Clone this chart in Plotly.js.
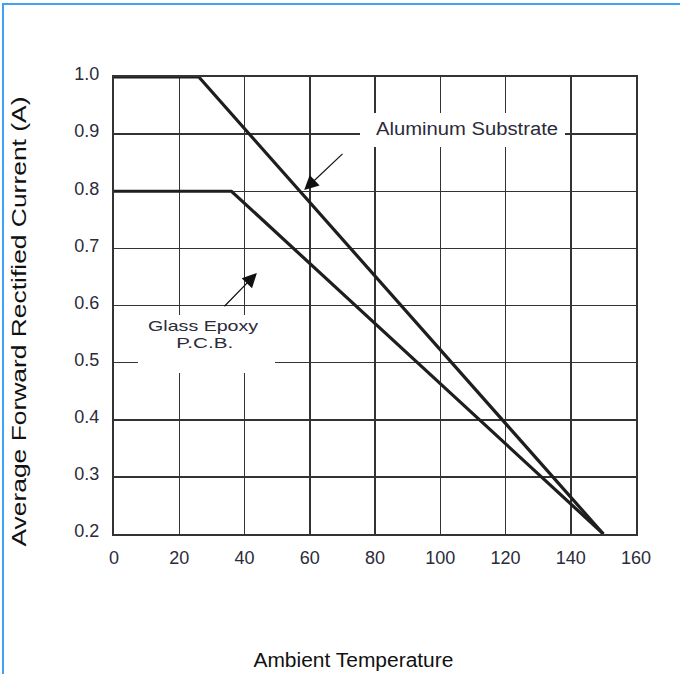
<!DOCTYPE html>
<html>
<head>
<meta charset="utf-8">
<script src="https://cdn.plot.ly/plotly-3.0.1.min.js"></script>
<style>
  html, body { margin: 0; padding: 0; background: #fff; }
  #wrap { position: relative; width: 680px; height: 674px; overflow: hidden; }
  #frame { position: absolute; left: 2px; top: 3px; width: 690px; height: 690px;
           border-top: 2px solid #3fa2f6; border-left: 2px solid #3fa2f6; pointer-events: none; z-index: 5; }
  #chart { position: absolute; left: 0; top: 0; width: 680px; height: 674px; }
</style>
</head>
<body>
<div id="wrap">
  <div id="chart"></div>
  <div id="frame"></div>
</div>
<script>
// Ambient temperature (°C) breakpoints and current (A)
const aluminumTemp = [0, 26, 150];
const aluminumCurrent = [1.0, 1.0, 0.2];
const glassTemp = [0, 36, 150];
const glassCurrent = [0.8, 0.8, 0.2];

const xTicks = [0, 20, 40, 60, 80, 100, 120, 140, 160];
const yTicks = [0.2, 0.3, 0.4, 0.5, 0.6, 0.7, 0.8, 0.9, 1.0];
const yTickLabels = ['0.2', '0.3', '0.4', '0.5', '0.6', '0.7', '0.8', '0.9', '1.0'];

const labelAluminum = 'Aluminum Substrate';
const labelGlass1 = 'Glass Epoxy';
const labelGlass2 = 'P.C.B.';
const xTitle = 'Ambient Temperature';
const yTitle = 'Average Forward Rectified Current (A)';

const L = 114, R = 636, T = 77, B = 534;
const px = v => (v - L) / (R - L);
const py = v => (B - v) / (B - T);

const lineStyle = { color: '#1e1e1e', width: 3.2 };
const traces = [
  { x: aluminumTemp, y: aluminumCurrent, mode: 'lines', line: lineStyle, name: labelAluminum, hoverinfo: 'skip' },
  { x: glassTemp, y: glassCurrent, mode: 'lines', line: lineStyle, name: 'Glass Epoxy P.C.B.', hoverinfo: 'skip' }
];

const FAM = 'Liberation Sans, Arial, sans-serif';
const tickFont = { family: FAM, size: 18, color: '#2b2b3a' };
const txtFont = { family: FAM, size: 18, color: '#2b2b3a' };
const glassFont = { family: FAM, size: 15, color: '#2b2b3a' };
const titleFont = { family: FAM, size: 20, color: '#111' };

const layout = {
  width: 680, height: 674,
  margin: { l: L, r: 680 - R, t: T, b: 674 - B, pad: 0 },
  paper_bgcolor: '#fff', plot_bgcolor: '#fff',
  showlegend: false,
  xaxis: {
    range: [0, 160], tickvals: xTicks, ticktext: xTicks.map(String),
    showgrid: true, gridcolor: '#333', gridwidth: 1.5, zeroline: false,
    showline: true, mirror: true, linecolor: '#333', linewidth: 2,
    ticks: '', tickfont: tickFont, ticklabelstandoff: 6, fixedrange: true
  },
  yaxis: {
    range: [0.2, 1.0], tickvals: yTicks, ticktext: yTickLabels,
    showgrid: true, gridcolor: '#333', gridwidth: 1.5, zeroline: false,
    showline: true, mirror: true, linecolor: '#333', linewidth: 2,
    ticks: '', tickfont: tickFont, ticklabelstandoff: 9, ticklabelshift: -3, fixedrange: true
  },
  shapes: [
    { type: 'rect', xref: 'paper', yref: 'paper', layer: 'above',
      x0: px(360), x1: px(565), y0: py(147), y1: py(113),
      fillcolor: '#fff', line: { width: 0 } },
    { type: 'rect', xref: 'paper', yref: 'paper', layer: 'above',
      x0: px(138), x1: px(275), y0: py(373), y1: py(315),
      fillcolor: '#fff', line: { width: 0 } }
  ],
  annotations: [
    { xref: 'paper', yref: 'paper', x: px(467), y: py(129), text: labelAluminum,
      showarrow: false, font: txtFont, xanchor: 'center', yanchor: 'middle' },
    { xref: 'paper', yref: 'paper', x: px(203), y: py(325), text: labelGlass1,
      showarrow: false, font: glassFont, xanchor: 'center', yanchor: 'middle' },
    { xref: 'paper', yref: 'paper', x: px(204), y: py(342), text: labelGlass2,
      showarrow: false, font: glassFont, xanchor: 'center', yanchor: 'middle' },
    { x: 58.3, y: 0.802, xref: 'x', yref: 'y', axref: 'x', ayref: 'y',
      ax: 70.5, ay: 0.868, text: '', showarrow: true, arrowhead: 2,
      arrowsize: 2.4, arrowwidth: 1.2, arrowcolor: '#111', standoff: 0 },
    { x: 43.8, y: 0.657, xref: 'x', yref: 'y', axref: 'x', ayref: 'y',
      ax: 33.4, ay: 0.596, text: '', showarrow: true, arrowhead: 2,
      arrowsize: 2.4, arrowwidth: 1.2, arrowcolor: '#111', standoff: 0 },
    { xref: 'paper', yref: 'paper', x: px(353), y: py(660), text: xTitle,
      showarrow: false, font: titleFont, xanchor: 'center', yanchor: 'middle' },
    { xref: 'paper', yref: 'paper', x: px(19), y: py(322), text: yTitle, textangle: -90,
      showarrow: false, font: titleFont, xanchor: 'center', yanchor: 'middle' }
  ]
};

// Target text lengths (px) as measured on the reference picture
const stretch = {};
stretch[labelAluminum] = 182;
stretch[labelGlass1] = 110;
stretch[labelGlass2] = 57;
stretch[xTitle] = 200;
stretch[yTitle] = 450;

Plotly.newPlot('chart', traces, layout, { staticPlot: true, displayModeBar: false }).then(gd => {
  gd.querySelectorAll('.annotation-text').forEach(t => {
    const len = stretch[t.textContent];
    if (len) {
      t.setAttribute('textLength', len);
      t.setAttribute('lengthAdjust', 'spacingAndGlyphs');
    }
  });
});
</script>
</body>
</html>
